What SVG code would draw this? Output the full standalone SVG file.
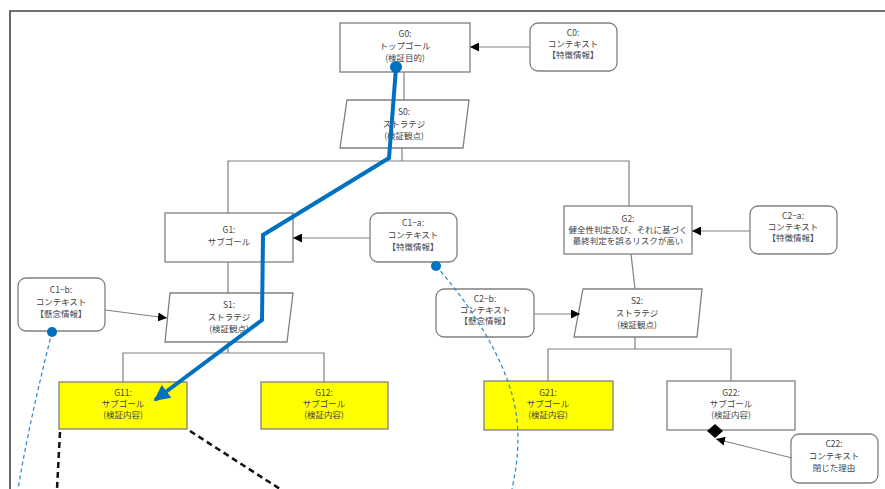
<svg xmlns="http://www.w3.org/2000/svg" width="885" height="489" viewBox="0 0 885 489">
<defs>
<style>
.box{fill:#fff;stroke:#808080;stroke-width:1.3}
.hl{fill:#ffff00;stroke:#808080;stroke-width:1.3}
.ln{fill:none;stroke:#808080;stroke-width:1.2}
.t{font-family:"Noto Sans CJK JP","Liberation Sans",sans-serif;font-size:8.5px;fill:#444;text-anchor:middle}
.blue{fill:none;stroke:#0070c0;stroke-width:4;stroke-linejoin:miter}
.bdash{fill:none;stroke:#2e86c8;stroke-width:1.2;stroke-dasharray:4 3}
.kdash{fill:none;stroke:#111;stroke-width:2.5;stroke-dasharray:6 4}
</style>
<marker id="ah" viewBox="0 0 10 10" refX="10" refY="5" markerWidth="9" markerHeight="9" markerUnits="userSpaceOnUse" orient="auto"><path d="M0,0 L10,5 L0,10 z" fill="#000"/></marker>
<marker id="bah" viewBox="0 0 10 10" refX="9" refY="5" markerWidth="18" markerHeight="16" markerUnits="userSpaceOnUse" orient="auto"><path d="M0,0 L10,5 L0,10 z" fill="#0070c0"/></marker>
</defs>
<rect width="885" height="489" fill="#fff"/>
<path d="M10,489 V11 H885" fill="none" stroke="#444" stroke-width="1.6"/>

<g id="G0"><rect class="box" x="340" y="23" width="130" height="49"/>
<text class="t" x="405" y="37">G0:</text><text class="t" x="405" y="49">トップゴール</text><text class="t" x="405" y="61">(検証目的)</text></g>
<g id="C0"><rect class="box" x="530" y="23" width="87" height="48" rx="8"/>
<text class="t" x="573" y="36">C0:</text><text class="t" x="573" y="47">コンテキスト</text><text class="t" x="573" y="58">【特徴情報】</text></g>
<g id="S0"><path class="box" d="M347,100 H469 L463,148 H340 z"/>
<text class="t" x="404" y="115">S0:</text><text class="t" x="404" y="127">ストラテジ</text><text class="t" x="404" y="139">(検証観点)</text></g>
<g id="G1"><rect class="box" x="165" y="213" width="128" height="49"/>
<text class="t" x="229" y="233">G1:</text><text class="t" x="229" y="245">サブゴール</text></g>
<g id="C1a"><rect class="box" x="370" y="213" width="87" height="49" rx="8"/>
<text class="t" x="413" y="226">C1−a:</text><text class="t" x="413" y="238">コンテキスト</text><text class="t" x="413" y="250">【特徴情報】</text></g>
<g id="C1b"><rect class="box" x="18" y="278" width="87" height="53" rx="8"/>
<text class="t" x="61" y="293">C1−b:</text><text class="t" x="61" y="305">コンテキスト</text><text class="t" x="61" y="317">【懸念情報】</text></g>
<g id="S1"><path class="box" d="M170,293 H293 L287,342 H165 z"/>
<text class="t" x="229" y="308">S1:</text><text class="t" x="229" y="320">ストラテジ</text><text class="t" x="229" y="332">(検証観点)</text></g>
<g id="G11"><rect class="hl" x="59" y="382" width="128" height="47"/>
<text class="t" x="123" y="396">G11:</text><text class="t" x="123" y="407">サブゴール</text><text class="t" x="123" y="418">(検証内容)</text></g>
<g id="G12"><rect class="hl" x="261" y="382" width="127" height="47"/>
<text class="t" x="324" y="396">G12:</text><text class="t" x="324" y="407">サブゴール</text><text class="t" x="324" y="418">(検証内容)</text></g>
<g id="G2"><rect class="box" x="564" y="206" width="128" height="48"/>
<text class="t" x="628" y="222">G2:</text><text class="t" x="628" y="233">健全性判定及び、それに基づく</text><text class="t" x="628" y="244">最終判定を誤るリスクが高い</text></g>
<g id="C2a"><rect class="box" x="750" y="206" width="87" height="48" rx="8"/>
<text class="t" x="793" y="219">C2−a:</text><text class="t" x="793" y="230">コンテキスト</text><text class="t" x="793" y="241">【特徴情報】</text></g>
<g id="C2b"><rect class="box" x="436" y="289" width="98" height="48" rx="8"/>
<text class="t" x="485" y="302">C2−b:</text><text class="t" x="485" y="313">コンテキスト</text><text class="t" x="485" y="324">【懸念情報】</text></g>
<g id="S2"><path class="box" d="M583,289 H702 L697,337 H574 z"/>
<text class="t" x="637" y="304">S2:</text><text class="t" x="637" y="316">ストラテジ</text><text class="t" x="637" y="328">(検証観点)</text></g>
<g id="G21"><rect class="hl" x="484" y="381" width="129" height="49"/>
<text class="t" x="548" y="396">G21:</text><text class="t" x="548" y="407">サブゴール</text><text class="t" x="548" y="418">(検証内容)</text></g>
<g id="G22"><rect class="box" x="667" y="381" width="128" height="49"/>
<text class="t" x="731" y="396">G22:</text><text class="t" x="731" y="407">サブゴール</text><text class="t" x="731" y="418">(検証内容)</text></g>
<g id="C22"><rect class="box" x="791" y="434" width="87" height="49" rx="8"/>
<text class="t" x="834" y="447">C22:</text><text class="t" x="834" y="459">コンテキスト</text><text class="t" x="834" y="471">閉じた理由</text></g>

<g id="connectors">
<path class="ln" d="M404,72 V100"/>
<path class="ln" d="M402,148 V161 M228,213 V161 H629 V206"/>
<path class="ln" d="M228,262 V293"/>
<path class="ln" d="M228,342 V353 M123,382 V353 H324 V382"/>
<path class="ln" d="M631,254 L635,289"/>
<path class="ln" d="M635,337 V349 M548,381 V349 H731 V381"/>
<path class="ln" d="M530,47 H470" marker-end="url(#ah)"/>
<path class="ln" d="M370,238 H293" marker-end="url(#ah)"/>
<path class="ln" d="M105,310 L167,318" marker-end="url(#ah)"/>
<path class="ln" d="M750,231 H692" marker-end="url(#ah)"/>
<path class="ln" d="M534,314 H580" marker-end="url(#ah)"/>
<path class="ln" d="M792,458 L716,439" marker-end="url(#ah)"/>
<path d="M715,424 L723,431 L715,438 L707,431 z" fill="#000"/>
<path class="bdash" d="M436,266 C475,310 512,370 517,420 C520,450 515,475 512,489"/>
<path class="bdash" d="M52,332 C40,380 28,430 18,489"/>
<circle cx="436" cy="266" r="5" fill="#0070c0"/>
<circle cx="52" cy="332" r="5" fill="#0070c0"/>
<path class="kdash" d="M60,432 L57,489"/>
<path class="kdash" d="M190,431 L280,489"/>
<path class="blue" d="M396,68 L389,158 L263,235 L262,320 L155,400" marker-end="url(#bah)"/>
<circle cx="396" cy="67" r="6" fill="#0070c0"/>
</g>
</svg>
